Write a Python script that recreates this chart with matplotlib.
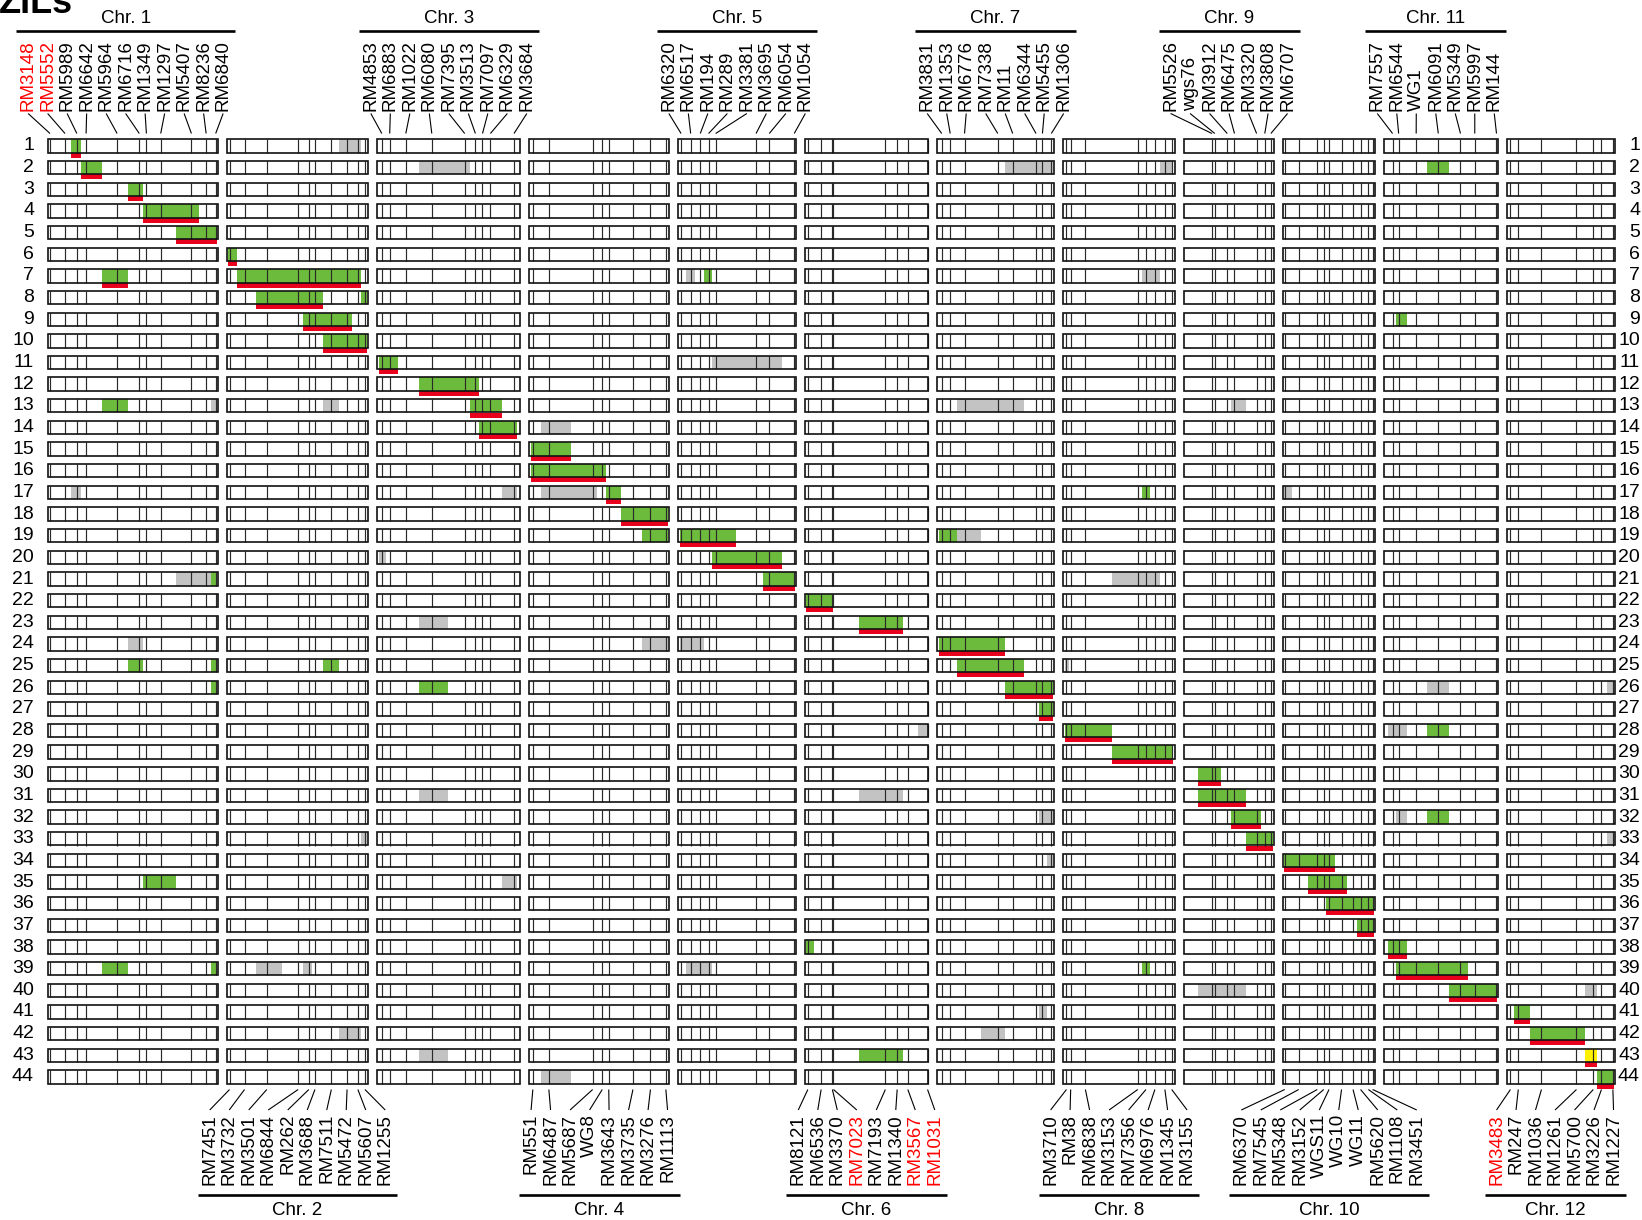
import numpy as np
import matplotlib
matplotlib.use("Agg")
import matplotlib.pyplot as plt
from matplotlib.patches import Rectangle
from matplotlib.collections import LineCollection

plt.rcParams['font.family'] = ['Liberation Sans', 'DejaVu Sans']

# --- DATA ---
chrom_names = ["Chr. %d" % i for i in range(1, 13)]
chrom_len = [43.27, 35.94, 36.41, 35.50, 29.96, 31.25, 29.70, 28.44, 23.01, 23.21, 29.02, 27.53]  # Mb

marker_names = [
    ["RM3148", "RM5552", "RM5989", "RM6642", "RM5964", "RM6716", "RM1349", "RM1297", "RM5407", "RM8236", "RM6840"],
    ["RM7451", "RM3732", "RM3501", "RM6844", "RM262", "RM3688", "RM7511", "RM5472", "RM5607", "RM1255"],
    ["RM4853", "RM6883", "RM1022", "RM6080", "RM7395", "RM3513", "RM7097", "RM6329", "RM3684"],
    ["RM551", "RM6487", "RM5687", "WG8", "RM3643", "RM3735", "RM3276", "RM1113"],
    ["RM6320", "RM6517", "RM194", "RM289", "RM3381", "RM3695", "RM6054", "RM1054"],
    ["RM8121", "RM6536", "RM3370", "RM7023", "RM7193", "RM1340", "RM3567", "RM1031"],
    ["RM3831", "RM1353", "RM6776", "RM7338", "RM11", "RM6344", "RM5455", "RM1306"],
    ["RM3710", "RM38", "RM6838", "RM3153", "RM7356", "RM6976", "RM1345", "RM3155"],
    ["RM5526", "wgs76", "RM3912", "RM6475", "RM3320", "RM3808", "RM6707"],
    ["RM6370", "RM7545", "RM5348", "RM3152", "WGS11", "WG10", "WG11", "RM5620", "RM1108", "RM3451"],
    ["RM7557", "RM6544", "WG1", "RM6091", "RM5349", "RM5997", "RM144"],
    ["RM3483", "RM247", "RM1036", "RM1261", "RM5700", "RM3226", "RM1227"],
]

# marker positions (Mb)
marker_pos = [
    [0.64, 4.45, 7.45, 9.81, 17.69, 23.33, 25.13, 28.77, 36.57, 40.31, 42.74],
    [0.71, 4.52, 10.17, 18.14, 20.86, 22.41, 26.58, 30.57, 33.32, 35.12],
    [1.17, 3.18, 7.27, 13.88, 22.24, 24.96, 26.76, 28.77, 34.77],
    [0.86, 4.93, 16.06, 18.50, 20.15, 26.30, 30.75, 34.66],
    [0.74, 3.18, 5.62, 7.73, 9.53, 19.80, 23.15, 29.50],
    [0.71, 4.09, 6.94, 7.22, 20.41, 23.41, 26.12, 31.13],
    [1.19, 3.35, 6.99, 15.43, 19.24, 25.16, 26.79, 29.05],
    [0.91, 1.98, 5.72, 19.03, 21.12, 23.38, 25.92, 27.65],
    [7.17, 7.88, 11.05, 12.88, 18.50, 20.58, 22.13],
    [0.36, 3.91, 8.62, 10.27, 11.61, 14.79, 17.71, 19.62, 21.60, 22.69],
    [2.26, 3.81, 8.26, 13.88, 19.52, 23.15, 28.67],
    [0.91, 2.90, 8.79, 17.69, 21.96, 24.04, 26.94],
]

red_markers = ["RM3148", "RM5552", "RM7023", "RM3567", "RM1031", "RM3483"]

n_lines = 44

# (line, chromosome, first marker index, last marker index)
introgression = [
    (1, 1, 2, 2), (2, 1, 3, 3), (2, 11, 3, 3), (3, 1, 5, 5), (4, 1, 6, 8), (5, 1, 8, 10),
    (6, 2, 0, 0), (7, 1, 4, 4), (7, 2, 1, 8), (7, 5, 3, 3), (8, 2, 2, 5), (8, 2, 9, 9),
    (9, 2, 4, 7), (9, 11, 1, 1), (10, 2, 6, 9), (11, 3, 0, 1), (12, 3, 3, 5),
    (13, 1, 4, 4), (13, 3, 5, 7), (14, 3, 6, 8), (15, 4, 0, 1), (16, 4, 0, 3),
    (17, 4, 4, 4), (17, 8, 4, 4), (18, 4, 5, 7), (19, 4, 6, 7), (19, 5, 0, 4),
    (19, 7, 0, 1), (20, 5, 4, 6), (21, 1, 10, 10), (21, 5, 6, 7), (22, 6, 0, 2),
    (23, 6, 4, 5), (24, 7, 0, 3), (25, 1, 5, 5), (25, 1, 10, 10), (25, 2, 6, 6),
    (25, 7, 2, 4), (26, 1, 10, 10), (26, 3, 3, 3), (26, 7, 4, 7), (27, 7, 6, 7),
    (28, 8, 0, 2), (28, 11, 3, 3), (29, 8, 3, 7), (30, 9, 0, 1), (31, 9, 0, 3),
    (32, 9, 3, 4), (32, 11, 3, 3), (33, 9, 4, 6), (34, 10, 0, 4), (35, 1, 6, 7),
    (35, 10, 2, 5), (36, 10, 4, 9), (37, 10, 7, 9), (38, 6, 0, 0), (38, 11, 0, 1),
    (39, 1, 4, 4), (39, 1, 10, 10), (39, 8, 4, 4), (39, 11, 1, 4), (40, 11, 4, 6),
    (41, 12, 1, 1), (42, 12, 2, 3), (43, 6, 4, 5), (44, 12, 5, 6),
]

heterozygous = [
    (1, 2, 7, 8), (2, 3, 3, 4), (2, 7, 4, 7), (2, 8, 6, 7), (7, 5, 1, 1), (7, 8, 4, 5),
    (11, 5, 4, 6), (13, 1, 10, 10), (13, 2, 6, 6), (13, 7, 2, 4), (13, 9, 3, 3),
    (14, 4, 1, 1), (17, 1, 2, 2), (17, 3, 8, 8), (17, 4, 1, 2), (17, 10, 0, 0),
    (19, 7, 2, 2), (20, 3, 0, 0), (21, 1, 8, 9), (21, 8, 3, 5), (23, 3, 3, 3),
    (24, 1, 5, 5), (24, 4, 6, 7), (24, 5, 0, 2), (25, 8, 0, 0), (26, 11, 3, 3),
    (26, 12, 6, 6), (28, 6, 7, 7), (28, 11, 0, 1), (31, 3, 3, 3), (31, 6, 4, 5),
    (32, 7, 6, 7), (32, 11, 1, 1), (33, 2, 9, 9), (33, 12, 6, 6), (34, 7, 7, 7),
    (35, 3, 8, 8), (39, 2, 2, 2), (39, 2, 4, 4), (39, 5, 1, 3), (40, 9, 0, 3),
    (40, 12, 4, 4), (41, 7, 6, 6), (42, 2, 7, 8), (42, 7, 3, 3), (43, 3, 3, 3),
    (44, 4, 1, 1),
]

other_allele = [(43, 12, 4, 4)]

targets = [
    (1, 1, 2, 2), (2, 1, 3, 3), (3, 1, 5, 5), (4, 1, 6, 8), (5, 1, 8, 10), (6, 2, 0, 0),
    (7, 1, 4, 4), (7, 2, 1, 8), (8, 2, 2, 5), (9, 2, 4, 7), (10, 2, 6, 9), (11, 3, 0, 1),
    (12, 3, 3, 5), (13, 3, 5, 7), (14, 3, 6, 8), (15, 4, 0, 1), (16, 4, 0, 3),
    (17, 4, 4, 4), (18, 4, 5, 7), (19, 5, 0, 4), (20, 5, 4, 6), (21, 5, 6, 7),
    (22, 6, 0, 2), (23, 6, 4, 5), (24, 7, 0, 3), (25, 7, 2, 4), (26, 7, 4, 7),
    (27, 7, 6, 7), (28, 8, 0, 2), (29, 8, 3, 7), (30, 9, 0, 1), (31, 9, 0, 3),
    (32, 9, 3, 4), (33, 9, 4, 6), (34, 10, 0, 4), (35, 10, 2, 5), (36, 10, 4, 9),
    (37, 10, 7, 9), (38, 11, 0, 1), (39, 11, 1, 4), (40, 11, 4, 6), (41, 12, 1, 1),
    (42, 12, 2, 3), (43, 12, 4, 4), (44, 12, 5, 6),
]

# --- LAYOUT / STYLE ---
W, H = 1642, 1220
PX_PER_MB = 3.935
X0 = 47.5
GAP = 9.0
ROW0 = 146.0
ROW_STEP = 21.65
BAR_H = 13.4
LABEL_STEP = 19.5
LABEL_SHIFT = [-7, 0, 0, 0, 0, 0, 0, 0, 0, 0, -5, -6]
GREEN = "#6cbb3c"
GRAY = "#c3c3c3"
YELLOW = "#fff000"
RED = "#e8001c"
FS = 13.5

starts = []
x = X0
for L in chrom_len:
    starts.append(x)
    x += L * PX_PER_MB + GAP


def mx(c, mb):
    return starts[c] + mb * PX_PER_MB


def row_y(r):
    return ROW0 + (r - 1) * ROW_STEP


def seg_x(c, a, b):
    # segment runs halfway to the neighbouring markers (or chromosome ends)
    ext = [0.0] + marker_pos[c] + [chrom_len[c]]
    left = (ext[a] + ext[a + 1]) / 2
    right = (ext[b + 1] + ext[b + 2]) / 2
    return mx(c, left), mx(c, right)


fig = plt.figure(figsize=(W / 100, H / 100), dpi=100)
ax = fig.add_axes([0, 0, 1, 1])
ax.set_xlim(0, W)
ax.set_ylim(H, 0)
ax.axis("off")

# chromosome bars
for r in range(1, n_lines + 1):
    y = row_y(r)
    for c in range(12):
        ax.add_patch(Rectangle((starts[c], y - BAR_H / 2), chrom_len[c] * PX_PER_MB, BAR_H,
                               facecolor="white", edgecolor="none", zorder=1))

for segs, col in [(introgression, GREEN), (heterozygous, GRAY), (other_allele, YELLOW)]:
    for r, c, a, b in segs:
        x1, x2 = seg_x(c - 1, a, b)
        y = row_y(r)
        ax.add_patch(Rectangle((x1, y - BAR_H / 2), x2 - x1, BAR_H,
                               facecolor=col, edgecolor="none", zorder=2))

for r, c, a, b in targets:
    x1, x2 = seg_x(c - 1, a, b)
    y = row_y(r)
    ax.add_patch(Rectangle((x1, y + BAR_H / 2), x2 - x1, 5.0,
                           facecolor=RED, edgecolor="none", zorder=2))

lines = []
for r in range(1, n_lines + 1):
    y = row_y(r)
    for c in range(12):
        for p in marker_pos[c]:
            xx = mx(c, p)
            lines.append([(xx, y - BAR_H / 2), (xx, y + BAR_H / 2)])
ax.add_collection(LineCollection(lines, colors="#2a2a2a", linewidths=0.85, zorder=3))

for r in range(1, n_lines + 1):
    y = row_y(r)
    for c in range(12):
        ax.add_patch(Rectangle((starts[c], y - BAR_H / 2), chrom_len[c] * PX_PER_MB, BAR_H,
                               fill=False, edgecolor="#111111", linewidth=1.2, zorder=4))
    ax.text(34, y, str(r), ha="right", va="center", fontsize=14)
    ax.text(1640, y, str(r), ha="right", va="center", fontsize=14)

# marker labels and connectors
conn = []
for c in range(12):
    names = marker_names[c]
    n = len(names)
    center = starts[c] + chrom_len[c] * PX_PER_MB / 2 + LABEL_SHIFT[c]
    lx = [center + (j - (n - 1) / 2) * LABEL_STEP for j in range(n)]
    top = (c % 2 == 0)
    for j, name in enumerate(names):
        col = "#ff0000" if name in red_markers else "black"
        px = mx(c, marker_pos[c][j])
        if top:
            ax.text(lx[j], 111, name, rotation=90, ha="center", va="bottom",
                    fontsize=FS, color=col)
            conn.append([(lx[j], 113.5), (px, 133.5)])
        else:
            ax.text(lx[j], 1114, name, rotation=90, ha="center", va="top",
                    fontsize=FS, color=col)
            conn.append([(px, 1089.5), (lx[j], 1110)])
    hy = 30.7 if top else 1195
    ax.plot([lx[0] - 12, lx[-1] + 12], [hy, hy], color="black", lw=1.9, solid_capstyle="butt")
    ty = 23.3 if top else 1215
    ax.text((lx[0] + lx[-1]) / 2, ty, chrom_names[c], ha="center", va="baseline", fontsize=FS)
ax.add_collection(LineCollection(conn, colors="black", linewidths=0.8))

# panel title, cut by the top edge as in the original
ax.text(-1, 12.7, "ZILs", ha="left", va="baseline", fontsize=26, fontweight="bold")

fig.savefig("out.png", dpi=100)
